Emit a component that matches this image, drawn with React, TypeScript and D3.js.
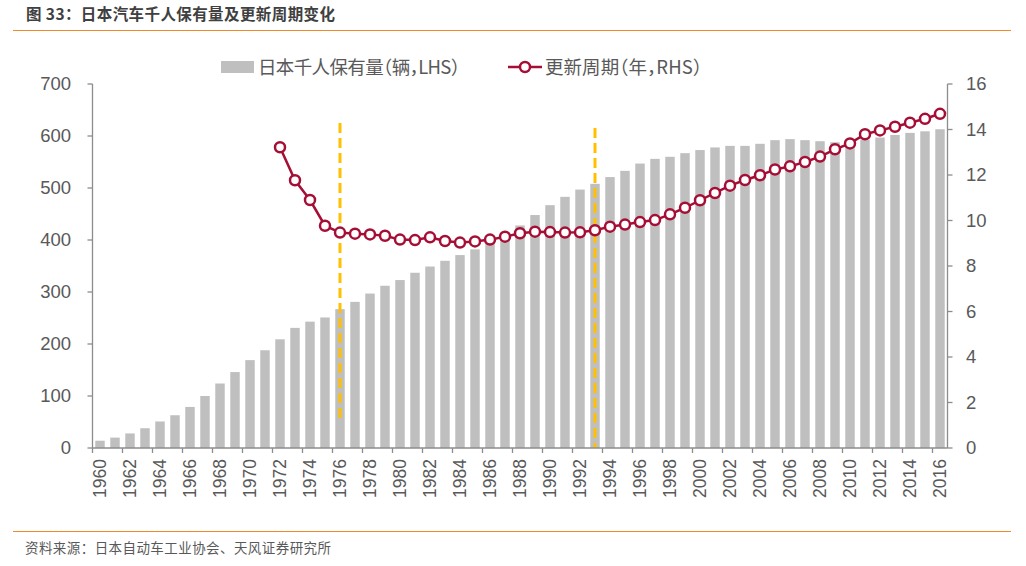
import React from "react";
import * as d3 from "d3";

const years: number[] = [];
for (let y = 1960; y <= 2016; y++) years.push(y);

const ownership = [
  14, 20, 28, 38, 51, 63, 79, 100, 124, 146,
  169, 188, 209, 231, 243, 251, 267, 281, 297, 312,
  323, 337, 349, 360, 371, 382, 393, 406, 428, 448,
  467, 483, 497, 508, 521, 533, 547, 556, 560, 567,
  573, 578, 581, 581, 585, 592, 594, 592, 590, 588,
  591, 593, 597, 602, 606, 609, 613,
];

const cycleYears = [
  1972, 1973, 1974, 1975, 1976, 1977, 1978, 1979, 1980, 1981,
  1982, 1983, 1984, 1985, 1986, 1987, 1988, 1989, 1990, 1991,
  1992, 1993, 1994, 1995, 1996, 1997, 1998, 1999, 2000, 2001,
  2002, 2003, 2004, 2005, 2006, 2007, 2008, 2009, 2010, 2011,
  2012, 2013, 2014, 2015, 2016,
];
const cycle = [
  13.22, 11.77, 10.9, 9.77, 9.47, 9.42, 9.39, 9.33, 9.16, 9.14,
  9.26, 9.1, 9.03, 9.08, 9.16, 9.29, 9.44, 9.51, 9.49, 9.47,
  9.48, 9.57, 9.73, 9.82, 9.93, 10.02, 10.27, 10.56, 10.89, 11.21,
  11.53, 11.78, 11.99, 12.24, 12.38, 12.57, 12.81, 13.13, 13.39, 13.79,
  13.96, 14.12, 14.3, 14.47, 14.69,
];

const leftTicks = [0, 100, 200, 300, 400, 500, 600, 700];
const rightTicks = [0, 2, 4, 6, 8, 10, 12, 14, 16];
const markerYears = [1976, 1993];

const title = "图 33：日本汽车千人保有量及更新周期变化";
const source = "资料来源：日本自动车工业协会、天风证券研究所";
const legendBar = "日本千人保有量（辆，LHS）";
const legendLine = "更新周期（年，RHS）";

const W = 1026;
const H = 566;
const left = 92.5;
const right = 947.5;
const top = 84;
const bottom = 448;

const numFont = "'Liberation Sans', Arial, sans-serif";
const cjkFont = "'Noto Sans CJK SC', 'Microsoft YaHei', sans-serif";

export default function App() {
  const x = d3
    .scaleBand<number>()
    .domain(years)
    .range([left, right])
    .paddingInner(0.37)
    .paddingOuter(0.185);
  const xc = (yr: number) => (x(yr) as number) + x.bandwidth() / 2;
  const step = x.step();
  const bandLeft = (yr: number) => xc(yr) - step / 2;
  const yL = d3.scaleLinear().domain([0, 700]).range([bottom, top]);
  const yR = d3.scaleLinear().domain([0, 16]).range([bottom, top]);

  const line = d3
    .line<number>()
    .x((_, i) => xc(cycleYears[i]))
    .y((d) => yR(d));

  const axisColor = "#8c8c8c";
  const labelColor = "#595959";
  const lineColor = "#A50E35";
  const halt = { fontFeatureSettings: "'halt'" } as React.CSSProperties;

  return (
    <svg
      width={W}
      height={H}
      style={{ position: "absolute", left: 0, top: 0, background: "#fff" }}
    >
      <text
        x={26}
        y={20}
        fontFamily={cjkFont}
        fontWeight="bold"
        fontSize={15.5}
        fill="#404040"
        textLength={309}
        lengthAdjust="spacing"
      >
        {title}
      </text>
      <line x1={13} x2={1011} y1={30.5} y2={30.5} stroke="#F0892A" strokeWidth={1.2} />

      {/* legend */}
      <rect x={221} y={61} width={33} height={12} fill="#BFBFBF" />
      <text
        x={258}
        y={73.5}
        fontFamily={cjkFont}
        fontSize={18.5}
        fill={labelColor}
        style={halt}
        textLength={202}
        lengthAdjust="spacing"
      >
        {legendBar}
      </text>
      <line x1={508} x2={542} y1={67} y2={67} stroke={lineColor} strokeWidth={2.5} />
      <circle cx={525} cy={67} r={5} fill="#fff" stroke={lineColor} strokeWidth={2.5} />
      <text
        x={545}
        y={73.5}
        fontFamily={cjkFont}
        fontSize={18.5}
        fill={labelColor}
        style={halt}
        textLength={157}
        lengthAdjust="spacing"
      >
        {legendLine}
      </text>

      {/* bars */}
      {years.map((yr, i) => (
        <rect
          key={yr}
          x={x(yr)}
          y={yL(ownership[i])}
          width={x.bandwidth()}
          height={bottom - yL(ownership[i])}
          fill="#BFBFBF"
        />
      ))}

      {/* dashed markers */}
      <line
        x1={xc(markerYears[0])}
        x2={xc(markerYears[0])}
        y1={123}
        y2={420}
        stroke="#FFC000"
        strokeWidth={3}
        strokeDasharray="10 5"
      />
      <line
        x1={xc(markerYears[1])}
        x2={xc(markerYears[1])}
        y1={128}
        y2={448}
        stroke="#FFC000"
        strokeWidth={3}
        strokeDasharray="10 5"
      />

      {/* axes */}
      <line x1={left} x2={left} y1={top} y2={bottom} stroke={axisColor} strokeWidth={1.3} />
      <line x1={right} x2={right} y1={top} y2={bottom} stroke={axisColor} strokeWidth={1.3} />
      <line x1={left} x2={right} y1={bottom} y2={bottom} stroke={axisColor} strokeWidth={1.3} />
      {leftTicks.map((t) => (
        <g key={"l" + t}>
          <line x1={left - 5} x2={left} y1={yL(t)} y2={yL(t)} stroke={axisColor} strokeWidth={1.3} />
          <text
            x={71}
            y={yL(t)}
            dy="0.35em"
            textAnchor="end"
            fontFamily={numFont}
            fontSize={18.5}
            fill={labelColor}
          >
            {t}
          </text>
        </g>
      ))}
      {rightTicks.map((t) => (
        <g key={"r" + t}>
          <line x1={right} x2={right + 5} y1={yR(t)} y2={yR(t)} stroke={axisColor} strokeWidth={1.3} />
          <text
            x={966}
            y={yR(t)}
            dy="0.35em"
            textAnchor="start"
            fontFamily={numFont}
            fontSize={18.5}
            fill={labelColor}
          >
            {t}
          </text>
        </g>
      ))}
      {years
        .filter((yr) => yr % 2 === 0)
        .map((yr) => (
          <g key={"x" + yr}>
            <line
              x1={bandLeft(yr)}
              x2={bandLeft(yr)}
              y1={bottom}
              y2={bottom + 5}
              stroke={axisColor}
              strokeWidth={1.3}
            />
            <text
              transform={`translate(${xc(yr)},459) rotate(-90)`}
              dy="0.35em"
              textAnchor="end"
              fontFamily={numFont}
              fontSize={17.5}
              fill={labelColor}
            >
              {yr}
            </text>
          </g>
        ))}

      {/* line series */}
      <path d={line(cycle) || ""} fill="none" stroke={lineColor} strokeWidth={2.5} />
      {cycle.map((v, i) => (
        <circle
          key={cycleYears[i]}
          cx={xc(cycleYears[i])}
          cy={yR(v)}
          r={5}
          fill="#fff"
          stroke={lineColor}
          strokeWidth={2.5}
        />
      ))}

      <line x1={13} x2={1011} y1={531.5} y2={531.5} stroke="#F0892A" strokeWidth={1.2} />
      <text
        x={25}
        y={553}
        fontFamily={cjkFont}
        fontSize={13.5}
        fill={labelColor}
        textLength={306}
        lengthAdjust="spacing"
      >
        {source}
      </text>
    </svg>
  );
}
